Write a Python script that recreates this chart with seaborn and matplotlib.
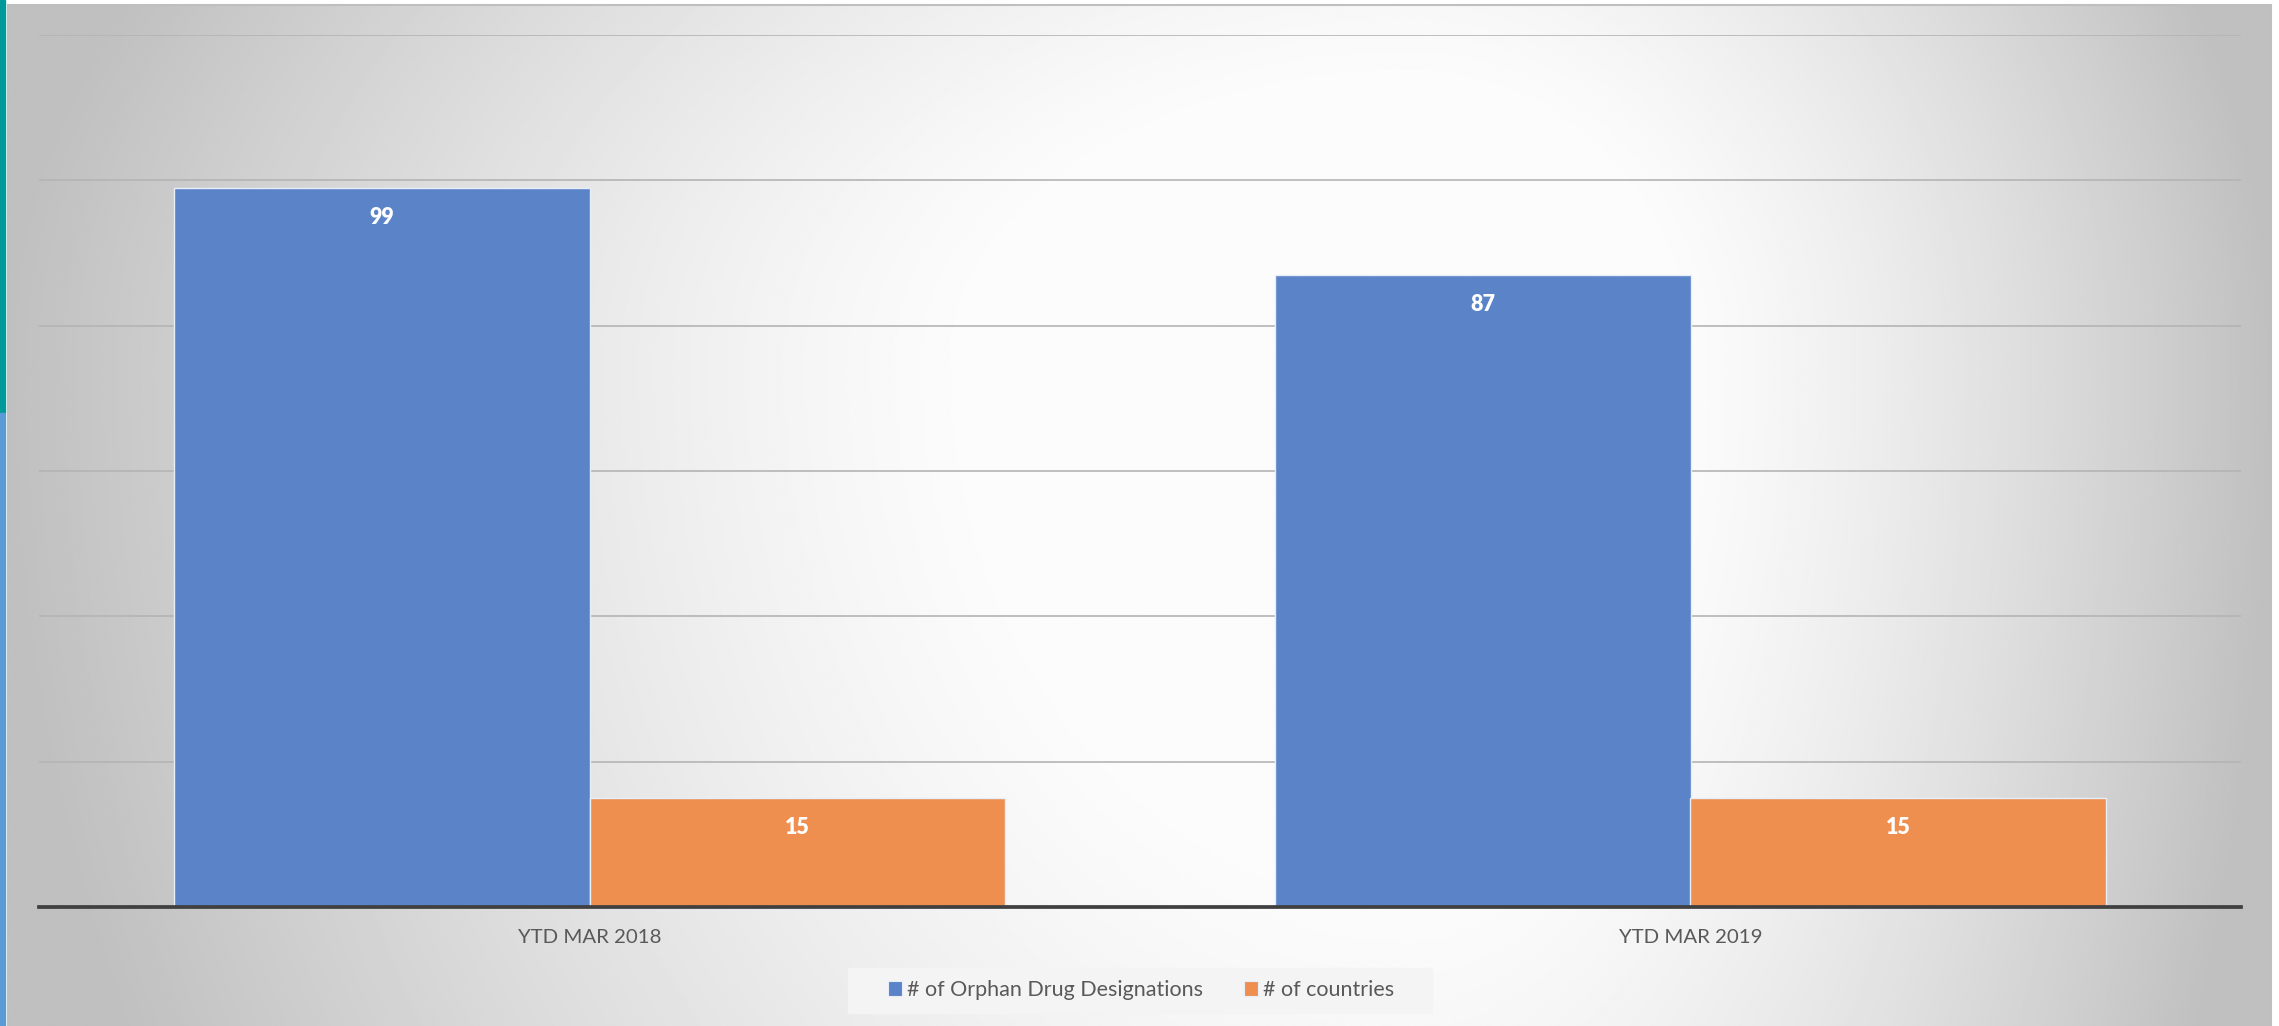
"""
Orphan drug designations vs countries, YTD March
"""
import numpy as np
import pandas as pd
import matplotlib
matplotlib.use('Agg')
import matplotlib.pyplot as plt
from matplotlib.patches import Patch, Rectangle
import seaborn as sns

# data
categories = ['YTD MAR 2018', 'YTD MAR 2019']
series_names = ['# of Orphan Drug Designations', '# of countries']
designations = [99, 87]
countries = [15, 15]
y_ticks = [0, 20, 40, 60, 80, 100, 120]

colors = ['#5B83C8', '#EE8F4F']

sns.set_style('white')
plt.rcParams['font.family'] = ['Lato', 'DejaVu Sans']

W, H = 2279, 1026
fig = plt.figure(figsize=(W / 100, H / 100), dpi=100)

# left colour stripes
fig.patches.append(Rectangle((0, 1 - 413 / H), 5 / W, 413 / H, color='#009999',
                             transform=fig.transFigure, zorder=0))
fig.patches.append(Rectangle((0, 0), 5 / W, 1 - 413 / H, color='#5B9BD5',
                             transform=fig.transFigure, zorder=0))

# radial grey gradient behind the chart, white plateau in the middle
bg = fig.add_axes([8 / W, 0, 2263 / W, 1021 / H], zorder=0)
gx, gy = np.meshgrid(np.linspace(0, 1, 800), np.linspace(0, 1, 400))
cx, cy = 0.62, 0.35
dx = np.where(gx < cx, (cx - gx) / cx, (gx - cx) / (1 - cx))
dy = np.where(gy < cy, (cy - gy) / cy, (gy - cy) / (1 - cy))
r = np.sqrt(dx ** 2 + (0.4 * dy) ** 2)
t = np.clip((r - 0.3) / 0.7, 0, 1)
shade = (252 - 60 * t ** 1.3) / 255
bg.imshow(shade, cmap='gray', vmin=0, vmax=1, aspect='auto',
          extent=(0, 1, 1, 0), interpolation='bilinear')
bg.set_xlim(0, 1)
bg.set_ylim(1, 0)
bg.axis('off')
fig.patches.append(Rectangle((8 / W, -0.01), 2263 / W, 1021 / H + 0.01, fill=False,
                             edgecolor='#bfbfbf', lw=1.5, transform=fig.transFigure,
                             zorder=1))

ax = fig.add_axes([39 / W, 1 - 907 / H, 2202 / W, 872 / H], zorder=2)
ax.set_facecolor('none')

df = pd.DataFrame({
    'period': categories * 2,
    'series': [series_names[0]] * 2 + [series_names[1]] * 2,
    'value': designations + countries,
})

sns.barplot(data=df, x='period', y='value', hue='series', palette=colors,
            saturation=1, width=0.754, gap=0, edgecolor='#e8eef8', linewidth=1,
            legend=False, ax=ax, zorder=2)

# value labels inside the bar tops
for cont in ax.containers:
    for p in cont.patches:
        ax.annotate(f'{p.get_height():g}', xy=(p.get_x() + p.get_width() / 2, p.get_height()),
                    xytext=(0, -21.5), textcoords='offset points', ha='center', va='center',
                    color='white', fontweight='heavy', fontsize=15.5, zorder=4)

ax.set_xlim(-0.5, 1.5)
ax.set_ylim(0, 120)
ax.set_yticks(y_ticks)
ax.set_yticklabels([])
ax.yaxis.grid(True, color='#b4b4b4', lw=1.2)
ax.set_axisbelow(True)
ax.set_xlabel('')
ax.set_ylabel('')
ax.tick_params(axis='both', length=0)
ax.tick_params(axis='x', pad=16, labelsize=14.7, labelcolor='#595959')
for s in ax.spines.values():
    s.set_visible(False)
ax.spines['bottom'].set_visible(True)
ax.spines['bottom'].set_color('#404040')
ax.spines['bottom'].set_linewidth(2.7)
ax.spines['bottom'].set_zorder(3)

# legend band
fig.patches.append(Rectangle((848 / W, 1 - 1013 / H), 584 / W, 45 / H, color='#f4f4f4',
                             transform=fig.transFigure, zorder=1))
handles = [Patch(facecolor=c, edgecolor='#e8eef8', lw=0.8) for c in colors]
leg = fig.legend(handles, series_names, loc='center', bbox_to_anchor=(1141 / W, 1 - 990 / H),
                 ncol=2, frameon=False, handlelength=0.65, handleheight=0.65,
                 handletextpad=0.25, columnspacing=1.9, fontsize=15.5, labelcolor='#595959',
                 borderpad=0.2)
leg.set_zorder(3)

fig.savefig('out.png', dpi=100)
